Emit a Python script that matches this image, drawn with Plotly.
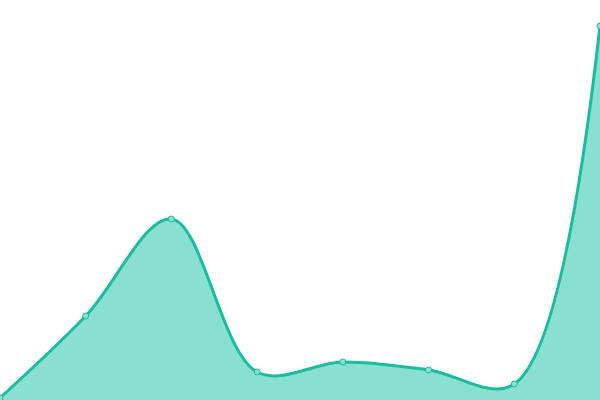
import plotly.graph_objects as go

# data (value 0 = bottom edge)
x_vals = [0, 1, 2, 3, 4, 5, 6, 7]
y_vals = [2, 84, 181, 28, 38, 30, 16, 374]

line_color = "#1abc9c"
fill_color = "#8ae0d0"

fig = go.Figure()

fig.add_trace(go.Scatter(
    x=x_vals, y=y_vals,
    mode="lines+markers",
    line=dict(color=line_color, width=3, shape="spline", smoothing=1),
    fill="tozeroy",
    fillcolor=fill_color,
    marker=dict(size=6, color=fill_color, line=dict(color=line_color, width=1)),
    cliponaxis=False,
    showlegend=False,
))

fig.update_layout(
    width=600, height=400,
    margin=dict(l=0, r=0, t=0, b=0),
    plot_bgcolor="white",
    paper_bgcolor="white",
    xaxis=dict(visible=False, range=[0, 7], fixedrange=True),
    yaxis=dict(visible=False, range=[0, 400], fixedrange=True),
)

# drop the page margin so the 600x400 figure sits flush in the window
fig.write_html(
    "out.html",
    config={"displayModeBar": False},
    post_script="document.body.style.margin='0';document.body.style.overflow='hidden';",
)
